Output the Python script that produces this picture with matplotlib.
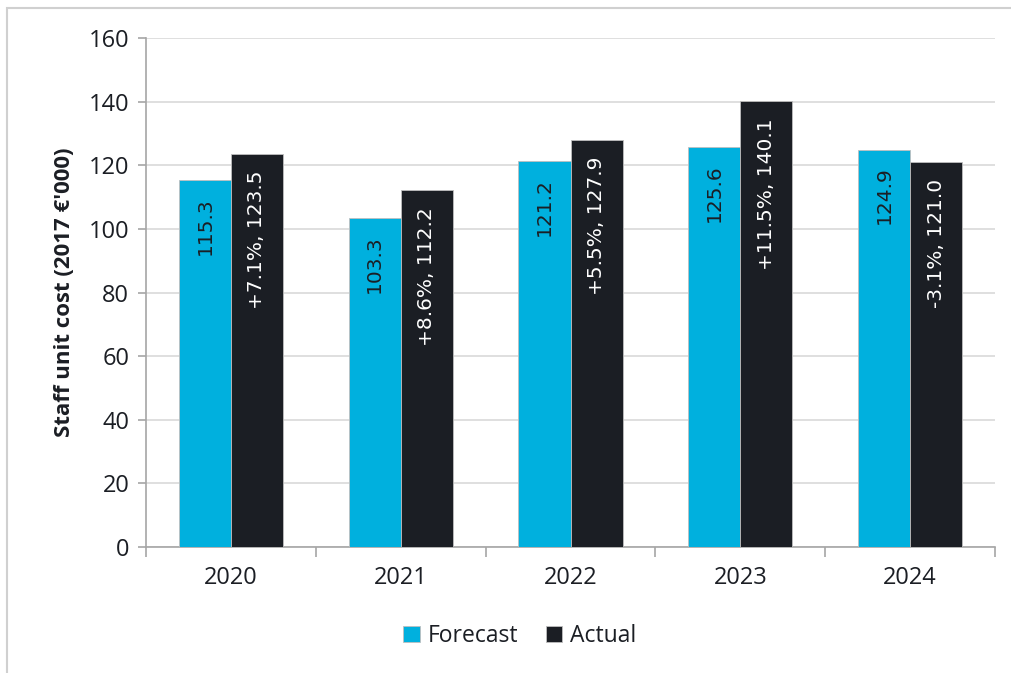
import matplotlib
matplotlib.use("Agg")
import matplotlib.pyplot as plt
import numpy as np
from matplotlib.patches import Rectangle

# Staff unit cost per year, forecast vs actual (2017 €'000)
years = ["2020", "2021", "2022", "2023", "2024"]
forecast = [115.3, 103.3, 121.2, 125.6, 124.9]
actual = [123.5, 112.2, 127.9, 140.1, 121.0]

BLUE = "#00b0de"
DARK = "#1b1e24"
GRID = "#d9d9d9"
AXIS = "#a6a6a6"
TICK_FONT = "Open Sans"

fig = plt.figure(figsize=(10.11, 6.73), dpi=100)
ax = fig.add_axes([0.1444, 0.1872, 0.8398, 0.7563])

# light frame around the whole chart area
fig.patches.append(Rectangle((7 / 1011, -0.01), 1.02, 1 - 8 / 673 + 0.01,
                             transform=fig.transFigure, fill=False,
                             edgecolor="#d0d0d0", linewidth=1.5))

x = np.arange(len(years))
w = 0.307
b1 = ax.bar(x - w / 2, forecast, w, color=BLUE, edgecolor="#bfbfbf", linewidth=0.6,
            label="Forecast", zorder=3)
b2 = ax.bar(x + w / 2, actual, w, color=DARK, edgecolor="#bfbfbf", linewidth=0.6,
            label="Actual", zorder=3)

for xi, f, a in zip(x, forecast, actual):
    pct = (a - f) / f * 100
    ax.annotate(f"{f:.1f}", (xi - w / 2, f), xytext=(0, -12), textcoords="offset points",
                rotation=90, ha="center", va="top", fontsize=14.5, color=DARK, zorder=4)
    ax.annotate(f"{pct:+.1f}%, {a:.1f}", (xi + w / 2, a), xytext=(0, -12),
                textcoords="offset points", rotation=90, ha="center", va="top",
                fontsize=14.5, color="white", zorder=4)

ax.set_ylim(0, 160)
ax.set_yticks(range(0, 161, 20))
ax.set_xlim(-0.5, len(years) - 0.5)
ax.set_xticks(x)
ax.set_xticklabels(years)
ax.set_xticks(np.arange(-0.5, len(years), 1), minor=True)

ax.yaxis.grid(True, color=GRID, linewidth=1.2, zorder=0)
ax.set_axisbelow(True)
for s in ["top", "right"]:
    ax.spines[s].set_visible(False)
for s in ["left", "bottom"]:
    ax.spines[s].set_color(AXIS)
    ax.spines[s].set_linewidth(1.2)

ax.tick_params(axis="y", length=6, width=1.2, color=AXIS, pad=6, labelsize=17,
               labelcolor=DARK)
ax.tick_params(axis="x", which="major", length=0, pad=14, labelsize=17, labelcolor=DARK)
ax.tick_params(axis="x", which="minor", length=7, width=1.2, color=AXIS)
for lab in ax.get_xticklabels() + ax.get_yticklabels():
    lab.set_fontfamily(TICK_FONT)

ax.set_ylabel("Staff unit cost (2017 €'000)", fontsize=16, fontweight="bold",
              fontfamily=TICK_FONT, color=DARK, labelpad=10)

leg = fig.legend(handles=[b1, b2], labels=["Forecast", "Actual"], loc="center",
                 bbox_to_anchor=(0.514, 1 - 636 / 673), ncol=2, frameon=False,
                 prop={"family": TICK_FONT, "size": 16.5}, handlelength=0.7,
                 handleheight=0.7, handletextpad=0.35, columnspacing=1.2)
for t in leg.get_texts():
    t.set_color(DARK)

fig.savefig("out.png", dpi=100)
